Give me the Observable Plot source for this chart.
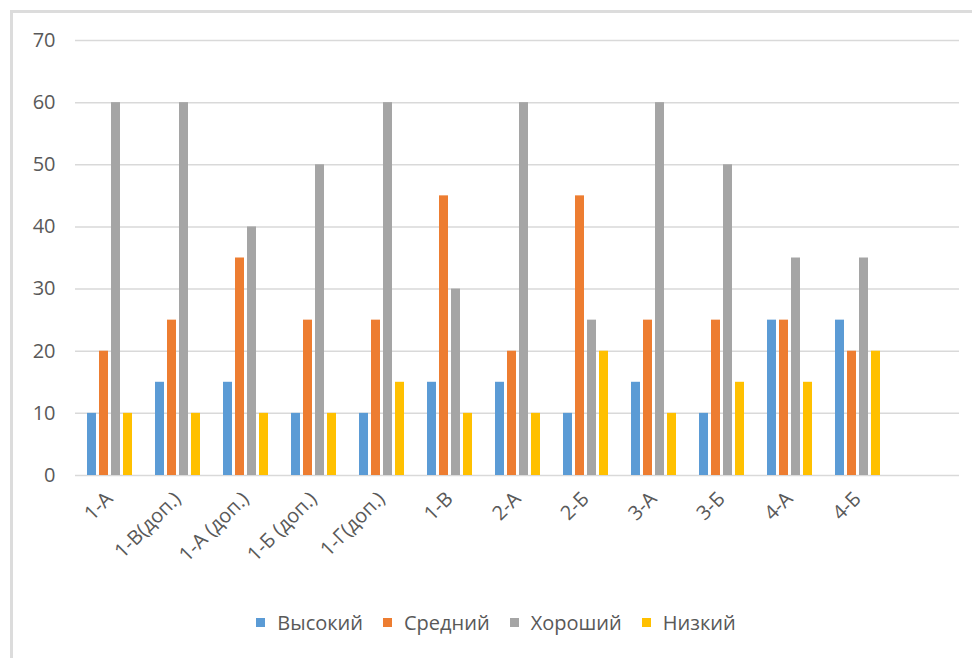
<!DOCTYPE html>
<html>
<head>
<meta charset="utf-8">
<script src="https://cdn.jsdelivr.net/npm/d3@7"></script>
<script src="https://cdn.jsdelivr.net/npm/@observablehq/plot@0.6"></script>
<style>
  html, body { margin: 0; padding: 0; background: #fff; }
  body { width: 972px; height: 658px; overflow: hidden; position: relative; font-family: "Open Sans", sans-serif; }
  #frame { position: absolute; left: 10px; top: 10px; width: 980px; height: 700px; border-left: 3px solid #dcdcdc; border-top: 3px solid #dcdcdc; box-sizing: border-box; }
  #chart { position: absolute; left: 0; top: 0; }
  #legend { position: absolute; left: 0; top: 609px; width: 992px; display: flex; justify-content: center; font-size: 20px; color: #595959; }
  .item { display: flex; align-items: center; margin: 0 10px; }
  .sw { width: 9px; height: 9px; margin-right: 12px; }
</style>
</head>
<body>
<div id="frame"></div>
<div id="chart"></div>
<div id="legend"></div>
<script>
const categories = ["1-А", "1-В(доп.)", "1-А (доп.)", "1-Б (доп.)", "1-Г(доп.)", "1-В", "2-А", "2-Б", "3-А", "3-Б", "4-А", "4-Б"];
const seriesNames = ["Высокий", "Средний", "Хороший", "Низкий"];
const vysokiy = [10, 15, 15, 10, 10, 15, 15, 10, 15, 10, 25, 25];
const sredniy = [20, 25, 35, 25, 25, 45, 20, 45, 25, 25, 25, 20];
const khoroshiy = [60, 60, 40, 50, 60, 30, 60, 25, 60, 50, 35, 35];
const nizkiy = [10, 10, 10, 10, 15, 10, 10, 20, 10, 15, 15, 20];
const colors = ["#5B9BD5", "#ED7D31", "#A5A5A5", "#FFC000"];
const yTicks = [0, 10, 20, 30, 40, 50, 60, 70];

const seriesValues = [vysokiy, sredniy, khoroshiy, nizkiy];
const data = categories.flatMap((c, i) =>
  seriesNames.map((s, j) => ({category: c, series: s, value: seriesValues[j][i]}))
);
// Excel layout leaves one empty category slot at the right
const fxDomain = [...categories, " "];
const gridData = fxDomain.flatMap((c) => yTicks.map((v) => ({category: c, value: v})));

const chart = Plot.plot({
  width: 972,
  height: 600,
  marginTop: 40,
  marginBottom: 125,
  marginLeft: 73,
  marginRight: 12,
  style: {fontFamily: "Open Sans, sans-serif", fontSize: "20px", color: "#595959", background: "transparent"},
  fx: {domain: fxDomain, padding: 0, label: null},
  x: {domain: seriesNames, paddingInner: 0.25, paddingOuter: 0.95, axis: null},
  y: {domain: [0, 70], label: null},
  color: {domain: seriesNames, range: colors},
  marks: [
    Plot.ruleY(gridData, {fx: "category", y: "value", stroke: "#D9D9D9", strokeWidth: 1.5}),
    Plot.barY(data, {fx: "category", x: "series", y: "value", fill: "series"}),
    Plot.axisY({ticks: yTicks, tickSize: 0, tickPadding: 20, label: null, fill: "#595959", fontSize: 20}),
    Plot.axisFx({anchor: "bottom", tickSize: 0, tickPadding: 20, tickRotate: -45, label: null, fill: "#595959", fontSize: 20})
  ]
});
document.getElementById("chart").appendChild(chart);

const legend = document.getElementById("legend");
seriesNames.forEach((s, i) => {
  const item = document.createElement("div");
  item.className = "item";
  const sw = document.createElement("span");
  sw.className = "sw";
  sw.style.background = colors[i];
  const t = document.createElement("span");
  t.textContent = s;
  item.appendChild(sw);
  item.appendChild(t);
  legend.appendChild(item);
});
</script>
</body>
</html>
